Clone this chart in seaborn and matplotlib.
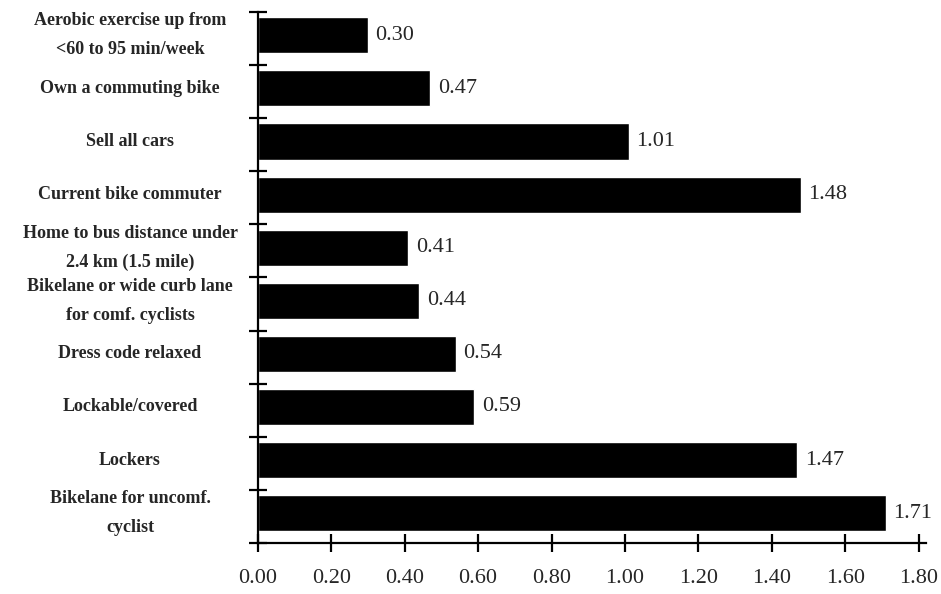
import matplotlib
matplotlib.use("Agg")
import matplotlib.pyplot as plt
import seaborn as sns
import pandas as pd
from matplotlib.ticker import FixedLocator

# values (odds ratios)
factors = [
    "Aerobic exercise up from\n<60 to 95 min/week",
    "Own a commuting bike",
    "Sell all cars",
    "Current bike commuter",
    "Home to bus distance under\n2.4 km (1.5 mile)",
    "Bikelane or wide curb lane\nfor comf. cyclists",
    "Dress code relaxed",
    "Lockable/covered",
    "Lockers",
    "Bikelane for uncomf.\ncyclist",
]
values = [0.30, 0.47, 1.01, 1.48, 0.41, 0.44, 0.54, 0.59, 1.47, 1.71]

df = pd.DataFrame({"factor": factors, "value": values})

sns.set_style("ticks")
plt.rcParams["font.family"] = ["Liberation Serif", "DejaVu Serif"]

fig = plt.figure(figsize=(9.41, 5.94), dpi=100)
ax = fig.add_axes([0.274, 0.086, 0.71, 0.894])

sns.barplot(data=df, x="value", y="factor", color="black", width=0.68,
            orient="h", ax=ax, saturation=1)

for i, v in enumerate(values):
    ax.text(v + 0.02, i, f"{v:.2f}", va="center", ha="left", fontsize=16)

# bars sit a little above the middle of their slot in the original
off = 0.44
ax.set_xlim(0, 1.82)
ax.set_ylim(len(values) - off, -off)
ax.xaxis.set_major_locator(FixedLocator([i * 0.2 for i in range(10)]))
ax.set_xticklabels([f"{i * 0.2:.2f}" for i in range(10)], fontsize=16)
ax.set_yticklabels(factors, fontsize=13, fontweight="bold", ha="center",
                   va="center", linespacing=1.9)
ax.tick_params(axis="y", which="major", length=0, pad=92)
ax.yaxis.set_minor_locator(FixedLocator([i - off for i in range(len(values) + 1)]))
ax.tick_params(axis="y", which="minor", length=13, width=1.6,
               direction="inout", color="black")
ax.tick_params(axis="x", which="major", length=13, width=1.6,
               direction="inout", color="black", pad=12)
ax.set_xlabel("")
ax.set_ylabel("")
sns.despine(ax=ax)
for s in ["left", "bottom"]:
    ax.spines[s].set_linewidth(1.6)
    ax.spines[s].set_color("black")

fig.savefig("out.png", dpi=100)
